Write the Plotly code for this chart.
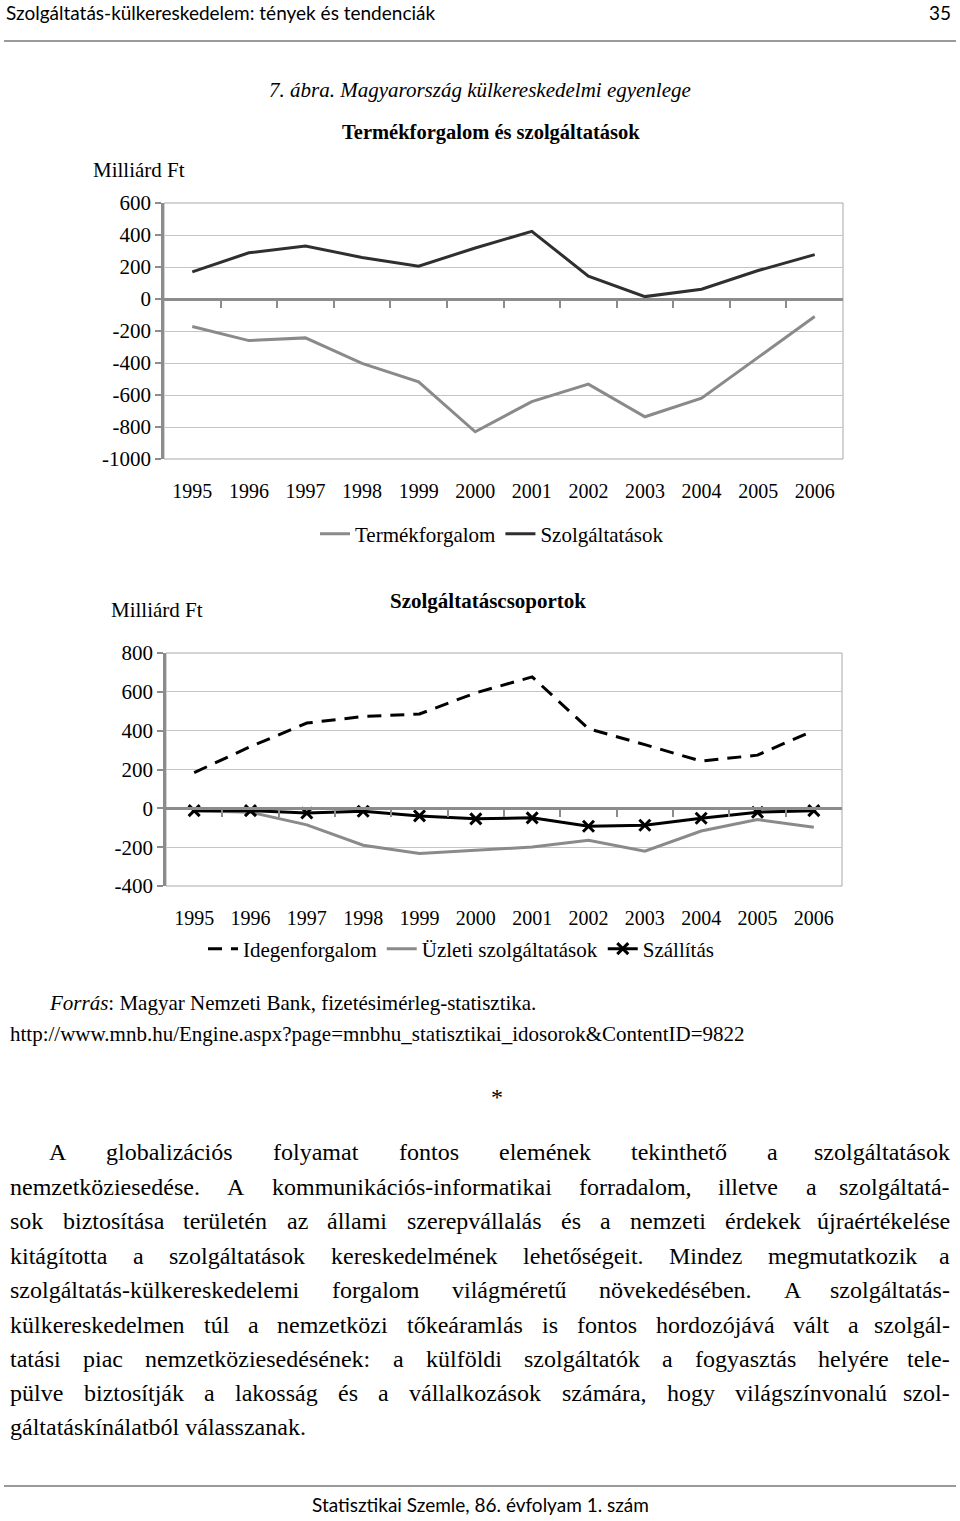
import plotly.graph_objects as go

W_PX, H_PX = 960, 1521

years = ["1995", "1996", "1997", "1998", "1999", "2000", "2001", "2002", "2003", "2004", "2005", "2006"]
termekforgalom = [-172, -260, -243, -402, -518, -830, -641, -532, -736, -620, -365, -109]
szolgaltatasok = [170, 289, 331, 260, 205, 319, 423, 143, 15, 61, 178, 277]
idegenforgalom = [184, 318, 439, 473, 486, 595, 677, 410, 328, 243, 274, 401]
uzleti = [-12, -20, -85, -190, -233, -216, -199, -165, -221, -117, -58, -97]
szallitas = [-12, -12, -24, -15, -39, -54, -49, -92, -87, -51, -20, -12]

y1_ticks = [-1000, -800, -600, -400, -200, 0, 200, 400, 600]
y2_ticks = [-400, -200, 0, 200, 400, 600, 800]

body_lines = [
    "A globalizációs folyamat fontos elemének tekinthető a szolgáltatások",
    "nemzetköziesedése. A kommunikációs-informatikai forradalom, illetve a szolgáltatá-",
    "sok biztosítása területén az állami szerepvállalás és a nemzeti érdekek újraértékelése",
    "kitágította a szolgáltatások kereskedelmének lehetőségeit. Mindez megmutatkozik a",
    "szolgáltatás-külkereskedelemi forgalom világméretű növekedésében. A szolgáltatás-",
    "külkereskedelmen túl a nemzetközi tőkeáramlás is fontos hordozójává vált a szolgál-",
    "tatási piac nemzetköziesedésének: a külföldi szolgáltatók a fogyasztás helyére tele-",
    "pülve biztosítják a lakosság és a vállalkozások számára, hogy világszínvonalú szol-",
    "gáltatáskínálatból válasszanak.",
]

SERIF = "Liberation Serif"
SANS = "Lato"
GRID = "#c4c4c4"
AXIS = "#8c8c8c"
DARK = "#2f2f2f"
GRAY = "#8a8a8a"

xs = list(range(len(years)))


def py(v):
    return 1 - v / H_PX


def px(v):
    return v / W_PX


# chart geometry (pixels)
c1_x0, c1_x1, c1_top, c1_bot = 164, 843, 203, 459
c2_x0, c2_x1, c2_top, c2_bot = 166, 842, 653, 886
c1_range = [-1000, 600]
c2_range = [-400, 800]


def zero_pos(top, bot, rng):
    d0, d1 = py(bot), py(top)
    return d0 + (0 - rng[0]) / (rng[1] - rng[0]) * (d1 - d0)


fig = go.Figure()

# chart 1
fig.add_trace(go.Scatter(x=xs, y=termekforgalom, mode="lines", name="Termékforgalom",
                         line=dict(color=GRAY, width=3), xaxis="x", yaxis="y", legend="legend"))
fig.add_trace(go.Scatter(x=xs, y=szolgaltatasok, mode="lines", name="Szolgáltatások",
                         line=dict(color=DARK, width=3), xaxis="x2", yaxis="y", legend="legend"))
# chart 2
fig.add_trace(go.Scatter(x=xs, y=idegenforgalom, mode="lines", name="Idegenforgalom",
                         line=dict(color="#000000", width=3, dash="14px,9px"),
                         xaxis="x3", yaxis="y3", legend="legend2"))
fig.add_trace(go.Scatter(x=xs, y=uzleti, mode="lines", name="Üzleti szolgáltatások",
                         line=dict(color=GRAY, width=3), xaxis="x3", yaxis="y3", legend="legend2"))
fig.add_trace(go.Scatter(x=xs, y=szallitas, mode="lines+markers", name="Szállítás",
                         line=dict(color="#000000", width=3),
                         marker=dict(symbol="x-thin", size=11, line=dict(color="#000000", width=3)),
                         xaxis="x4", yaxis="y3", legend="legend2"))

tickfont = dict(family=SERIF, size=20, color="#000000")
yfont = dict(family=SERIF, size=21, color="#000000")

label_axis = dict(range=[-0.5, len(years) - 0.5], tickvals=xs, ticktext=years, ticks="",
                  showgrid=False, showline=False, zeroline=False, tickfont=tickfont,
                  ticklabelstandoff=18, fixedrange=True, automargin=False)
zero_axis = dict(range=[-0.5, len(years) - 0.5], tickvals=[i + 0.5 for i in xs[:-1]],
                 ticks="outside", ticklen=7, tickwidth=2, tickcolor=AXIS,
                 showticklabels=False, showgrid=False, zeroline=False, automargin=False,
                 showline=True, linecolor=AXIS, linewidth=2.5, anchor="free", side="bottom")
y_common = dict(showgrid=True, gridcolor=GRID, gridwidth=1, zeroline=False, automargin=False,
                showline=True, linecolor=AXIS, linewidth=2.5, ticks="outside",
                ticklen=6, tickwidth=2, tickcolor=AXIS, tickfont=yfont)

fig.update_layout(
    width=W_PX, height=H_PX, margin=dict(l=0, r=0, t=0, b=0, pad=0, autoexpand=False),
    autosize=False,
    paper_bgcolor="white", plot_bgcolor="white",
    xaxis=dict(domain=[px(c1_x0), px(c1_x1)], anchor="y", **label_axis),
    xaxis2=dict(overlaying="x", position=zero_pos(c1_top, c1_bot, c1_range), **zero_axis),
    yaxis=dict(domain=[py(c1_bot), py(c1_top)], range=c1_range, tickvals=y1_ticks,
               ticktext=[str(v) for v in y1_ticks], anchor="x", **y_common),
    xaxis3=dict(domain=[px(c2_x0), px(c2_x1)], anchor="y3", **label_axis),
    xaxis4=dict(overlaying="x3", position=zero_pos(c2_top, c2_bot, c2_range), **zero_axis),
    yaxis3=dict(domain=[py(c2_bot), py(c2_top)], range=c2_range, tickvals=y2_ticks,
                ticktext=[str(v) for v in y2_ticks], anchor="x3", **y_common),
    legend=dict(orientation="h", x=px(492), y=py(534), xanchor="center", yanchor="middle",
                font=dict(family=SERIF, size=21, color="#000000"), bgcolor="rgba(0,0,0,0)",
                itemclick=False),
    legend2=dict(orientation="h", x=px(461), y=py(949), xanchor="center", yanchor="middle",
                 font=dict(family=SERIF, size=21, color="#000000"), bgcolor="rgba(0,0,0,0)",
                 itemclick=False),
    showlegend=True,
)

shapes = [
    dict(type="rect", xref="x domain", yref="y domain", x0=0, x1=1, y0=0, y1=1,
         line=dict(color="#a8a8a8", width=1), layer="below"),
    dict(type="rect", xref="x3 domain", yref="y3 domain", x0=0, x1=1, y0=0, y1=1,
         line=dict(color="#a8a8a8", width=1), layer="below"),
    dict(type="line", xref="paper", yref="paper", x0=px(4), x1=px(956), y0=py(41), y1=py(41),
         line=dict(color="#9a9a9a", width=2)),
    dict(type="line", xref="paper", yref="paper", x0=px(4), x1=px(956), y0=py(1486), y1=py(1486),
         line=dict(color="#9a9a9a", width=2)),
]
fig.update_layout(shapes=shapes)

annotations = []


def ann(text, x, y, size, xanchor="left", family=SERIF, color="#000000"):
    annotations.append(dict(text=text, x=px(x), y=py(y), xref="paper", yref="paper",
                            xanchor=xanchor, yanchor="middle", showarrow=False,
                            font=dict(family=family, size=size, color=color)))


ann("Szolgáltatás-külkereskedelem: tények és tendenciák", 4, 13, 19, family=SANS)
ann("35", 953, 13, 19, xanchor="right", family=SANS)
ann("<i>7. ábra. Magyarország külkereskedelmi egyenlege</i>", 480, 90, 21, xanchor="center")
ann("<b>Termékforgalom és szolgáltatások</b>", 491, 132, 20.5, xanchor="center")
ann("Milliárd Ft", 91, 170, 21)
ann("<b>Szolgáltatáscsoportok</b>", 488, 601, 21, xanchor="center")
ann("Milliárd Ft", 109, 610, 21)
ann("<i>Forrás</i>: Magyar Nemzeti Bank, fizetésimérleg-statisztika.", 47, 1003, 21)
ann("http://www.mnb.hu/Engine.aspx?page=mnbhu_statisztikai_idosorok&ContentID=9822", 8, 1034, 21)
ann("*", 497, 1097, 24, xanchor="center")
ann("Statisztikai Szemle, 86. évfolyam 1. szám", 480, 1504, 19, xanchor="center", family=SANS)

# Times / Liberation Serif advance widths (per 1000 em)
TW = {" ": 250, "a": 444, "b": 500, "c": 444, "d": 500, "e": 444, "f": 333, "g": 500, "h": 500,
      "i": 278, "j": 278, "k": 500, "l": 278, "m": 778, "n": 500, "o": 500, "p": 500, "q": 500,
      "r": 333, "s": 389, "t": 278, "u": 500, "v": 500, "w": 722, "x": 500, "y": 500, "z": 444,
      "A": 722, "M": 889, "K": 722, ",": 250, ".": 250, "-": 333, ":": 278}
ACC = {"á": "a", "é": "e", "í": "i", "ó": "o", "ö": "o", "ő": "o", "ú": "u", "ü": "u", "ű": "u"}


def tw(s, size):
    return sum(TW.get(ACC.get(c, c), 500) for c in s) / 1000 * size


BODY_SIZE = 24
line_y = [1152, 1187, 1221, 1256, 1290, 1325, 1359, 1393, 1427]
right_edge = 952
for i, (txt, yy) in enumerate(zip(body_lines, line_y)):
    x_start = 47 if i == 0 else 8
    if i == len(body_lines) - 1:
        ann(txt, x_start, yy, BODY_SIZE)
        continue
    words = txt.split(" ")
    widths = [tw(w, BODY_SIZE) for w in words]
    gap = (right_edge - x_start - sum(widths)) / (len(words) - 1)
    x = x_start
    for j, (w, wd) in enumerate(zip(words, widths)):
        if j == len(words) - 1:
            ann(w, right_edge, yy, BODY_SIZE, xanchor="right")
        else:
            ann(w, x, yy, BODY_SIZE)
        x += wd + gap

fig.update_layout(annotations=annotations)

post = (
    "document.documentElement.style.margin='0px';"
    "document.documentElement.style.padding='0px';"
    "document.body.style.margin='0px';"
    "document.body.style.padding='0px';"
    "document.documentElement.style.overflow='hidden';"
    "document.body.style.overflow='hidden';"
    "var d=document.getElementById('{plot_id}');"
    "d.style.position='absolute';d.style.top='0px';d.style.left='0px';"
    "document.body.style.height='1521px';"
)

fig.write_html("out.html", config={"displayModeBar": False}, post_script=post)
